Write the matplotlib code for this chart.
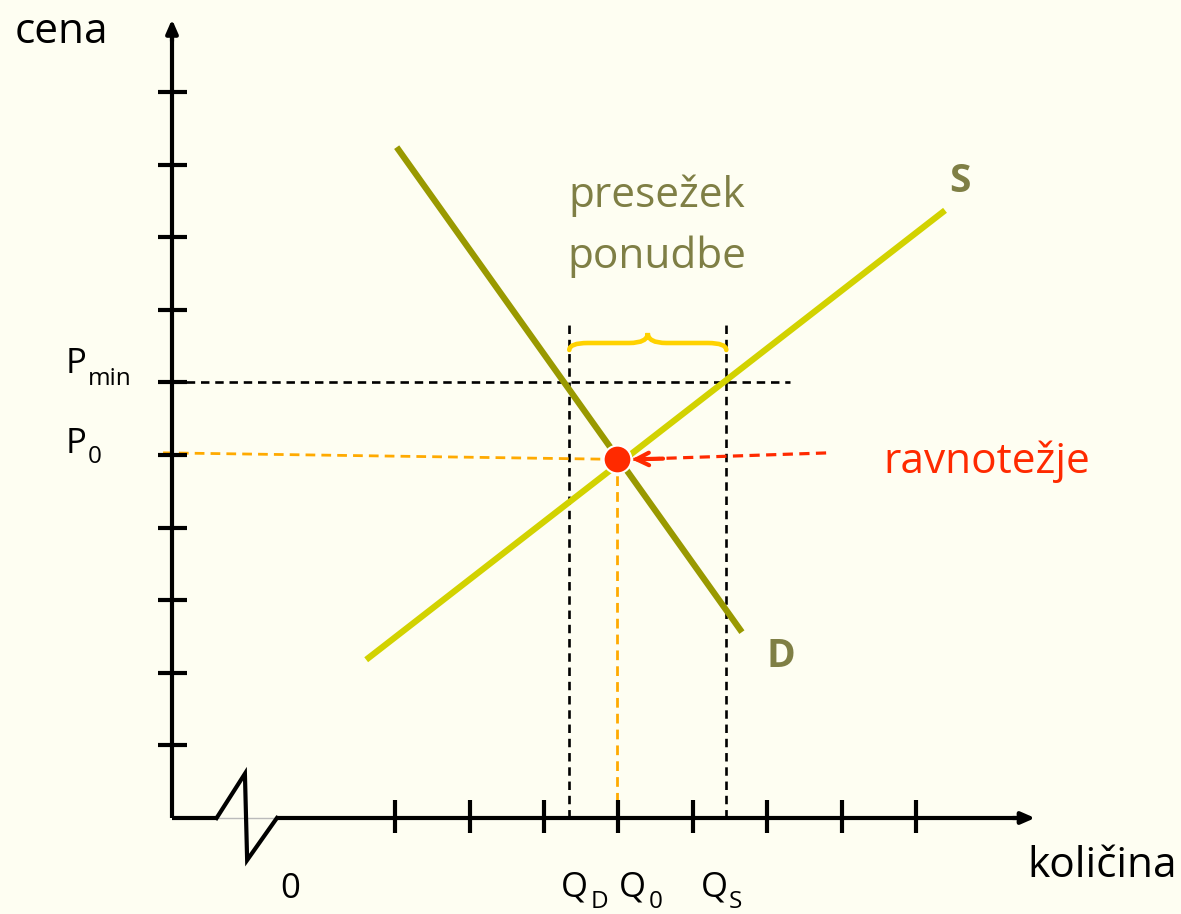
import matplotlib
matplotlib.use("Agg")
import matplotlib.pyplot as plt
from matplotlib.path import Path
from matplotlib.patches import PathPatch

plt.rcParams['font.family'] = ['Open Sans', 'DejaVu Sans']

# ---- data (axis units: one tick = 1) ----
x_ticks = [3, 4, 5, 6, 7, 8, 9, 10]
y_ticks = [1, 2, 3, 4, 5, 6, 7, 8, 9, 10]
demand_x = [3.02, 7.66]
demand_y = [9.24, 2.56]
supply_x = [2.61, 10.39]
supply_y = [2.18, 8.37]
P_min = 6.0
P0_axis = 5.03
Q_D = 5.34
Q_0 = 5.98
Q_S = 7.45
eq_x, eq_y = 5.98, 4.94
x_axis_end = 11.6
y_axis_end = 11.0
break_x = [0.60, 0.98, 1.01, 1.41]
break_y = [0.0, 0.61, -0.58, 0.0]

BG = '#FEFEF2'
OLIVE_TXT = '#7F7F45'
D_COL = '#999900'
S_COL = '#D2D200'
RED = '#FF2A00'
ORANGE = '#FFAA00'
GOLD = '#FFD200'

W, H = 1181, 914
fig = plt.figure(figsize=(W / 100, H / 100), dpi=100, facecolor=BG)
ax = fig.add_axes([0, 0, 1, 1])
ax.set_facecolor(BG)
ox, sx = 172, 74.4
oy, sy = 818, 72.6
ax.set_xlim((0 - ox) / sx, (W - ox) / sx)
ax.set_ylim((oy - H) / sy, oy / sy)
ax.axis('off')

def X(px):
    return (px - ox) / sx

def Y(py):
    return (oy - py) / sy

# ---- axes ----
ax.plot([0, 0], [0, y_axis_end - 0.25], color='black', lw=3, solid_capstyle='butt', zorder=3)
ax.annotate('', xy=(0, y_axis_end), xytext=(0, y_axis_end - 0.3),
            arrowprops=dict(arrowstyle='-|>,head_length=0.8,head_width=0.35', color='black', lw=3,
                            shrinkA=0, shrinkB=0), zorder=3)
ax.plot([0, break_x[0]], [0, 0], color='black', lw=3, solid_capstyle='butt', zorder=3)
ax.plot([break_x[0], break_x[-1]], [0, 0], color='#BBBBBB', lw=1, zorder=2)
ax.plot(break_x, break_y, color='black', lw=3, solid_joinstyle='miter', zorder=3)
ax.plot([break_x[-1], x_axis_end - 0.25], [0, 0], color='black', lw=3, solid_capstyle='butt', zorder=3)
ax.annotate('', xy=(x_axis_end, 0), xytext=(x_axis_end - 0.3, 0),
            arrowprops=dict(arrowstyle='-|>,head_length=0.8,head_width=0.35', color='black', lw=3,
                            shrinkA=0, shrinkB=0), zorder=3)
for t in y_ticks:
    ax.plot([-0.19, 0.2], [t, t], color='black', lw=3, solid_capstyle='butt', zorder=3)
for t in x_ticks:
    ax.plot([t, t], [-0.2, 0.25], color='black', lw=3, solid_capstyle='butt', zorder=3)

# ---- dashed guide lines ----
dash = dict(color='black', lw=1.9, dashes=(3.2, 2.2), zorder=2)
ax.plot([0, 8.3], [P_min, P_min], **dash)
ax.plot([Q_D, Q_D], [0, 6.86], **dash)
ax.plot([Q_S, Q_S], [0, 6.86], **dash)
ax.plot([-0.12, eq_x], [P0_axis, eq_y], color=ORANGE, lw=2.0, dashes=(3.5, 2.2), zorder=2)
ax.plot([Q_0, Q_0], [0, eq_y], color=ORANGE, lw=2.0, dashes=(3.5, 2.2), zorder=2)

# ---- curves ----
ax.plot(demand_x, demand_y, color=D_COL, lw=4.5, solid_capstyle='butt', zorder=4)
ax.plot(supply_x, supply_y, color=S_COL, lw=4.5, solid_capstyle='butt', zorder=4)

# ---- equilibrium ----
ax.plot([eq_x], [eq_y], 'o', ms=20, color=RED, mec='white', mew=1.5, zorder=6)
ax.plot([6.2, 8.84], [4.94, 5.03], color=RED, lw=2.3, dashes=(3.2, 2.0), zorder=6)
ax.annotate('', xy=(6.18, 4.94), xytext=(6.6, 4.95),
            arrowprops=dict(arrowstyle='->,head_length=0.9,head_width=0.45', color=RED, lw=3,
                            shrinkA=0, shrinkB=0, capstyle='round'), zorder=6)

# ---- brace ----
xb0, xb1 = Q_D, Q_S
xm = (xb0 + xb1) / 2
yb, ym, yt = Y(350), Y(343), Y(333)
r = 0.25
verts = [(xb0, yb), (xb0, ym), (xb0 + r, ym), (xm - r, ym), (xm, ym), (xm, yt),
         (xm, ym), (xm + r, ym), (xb1 - r, ym), (xb1, ym), (xb1, yb)]
codes = [Path.MOVETO, Path.CURVE3, Path.CURVE3, Path.LINETO, Path.CURVE3, Path.CURVE3,
         Path.CURVE3, Path.CURVE3, Path.LINETO, Path.CURVE3, Path.CURVE3]
ax.add_patch(PathPatch(Path(verts, codes), fill=False, edgecolor=GOLD, lw=3.3, capstyle='round', zorder=5))

# ---- texts ----
fs = 30.5
ax.text(X(15), Y(43), 'cena', fontsize=fs, ha='left', va='baseline', color='black')
ax.text(X(1027), Y(877), 'količina', fontsize=fs, ha='left', va='baseline', color='black')
ax.text(X(290), Y(898), '0', fontsize=25, ha='center', va='baseline', color='black')
ax.text(X(66), Y(373), 'P', fontsize=25, ha='left', va='baseline')
ax.text(X(88), Y(385), 'min', fontsize=17.5, ha='left', va='baseline')
ax.text(X(66), Y(453), 'P', fontsize=25, ha='left', va='baseline')
ax.text(X(88), Y(463), '0', fontsize=17.5, ha='left', va='baseline')
for qx, sub, subx in [(561, 'D', 591), (619, '0', 649), (701, 'S', 729)]:
    ax.text(X(qx), Y(897), 'Q', fontsize=25, ha='left', va='baseline')
    ax.text(X(subx), Y(908), sub, fontsize=17.5, ha='left', va='baseline')
ax.text(X(657), Y(207), 'presežek', fontsize=fs, ha='center', va='baseline', color=OLIVE_TXT)
ax.text(X(657), Y(268), 'ponudbe', fontsize=fs, ha='center', va='baseline', color=OLIVE_TXT)
ax.text(X(949), Y(192), 'S', fontsize=28, fontweight='bold', ha='left', va='baseline', color=OLIVE_TXT)
ax.text(X(767), Y(667), 'D', fontsize=28, fontweight='bold', ha='left', va='baseline', color=OLIVE_TXT)
ax.text(X(883), Y(473), 'ravnotežje', fontsize=fs, ha='left', va='baseline', color=RED)

fig.savefig('out.png', dpi=100, facecolor=BG)
